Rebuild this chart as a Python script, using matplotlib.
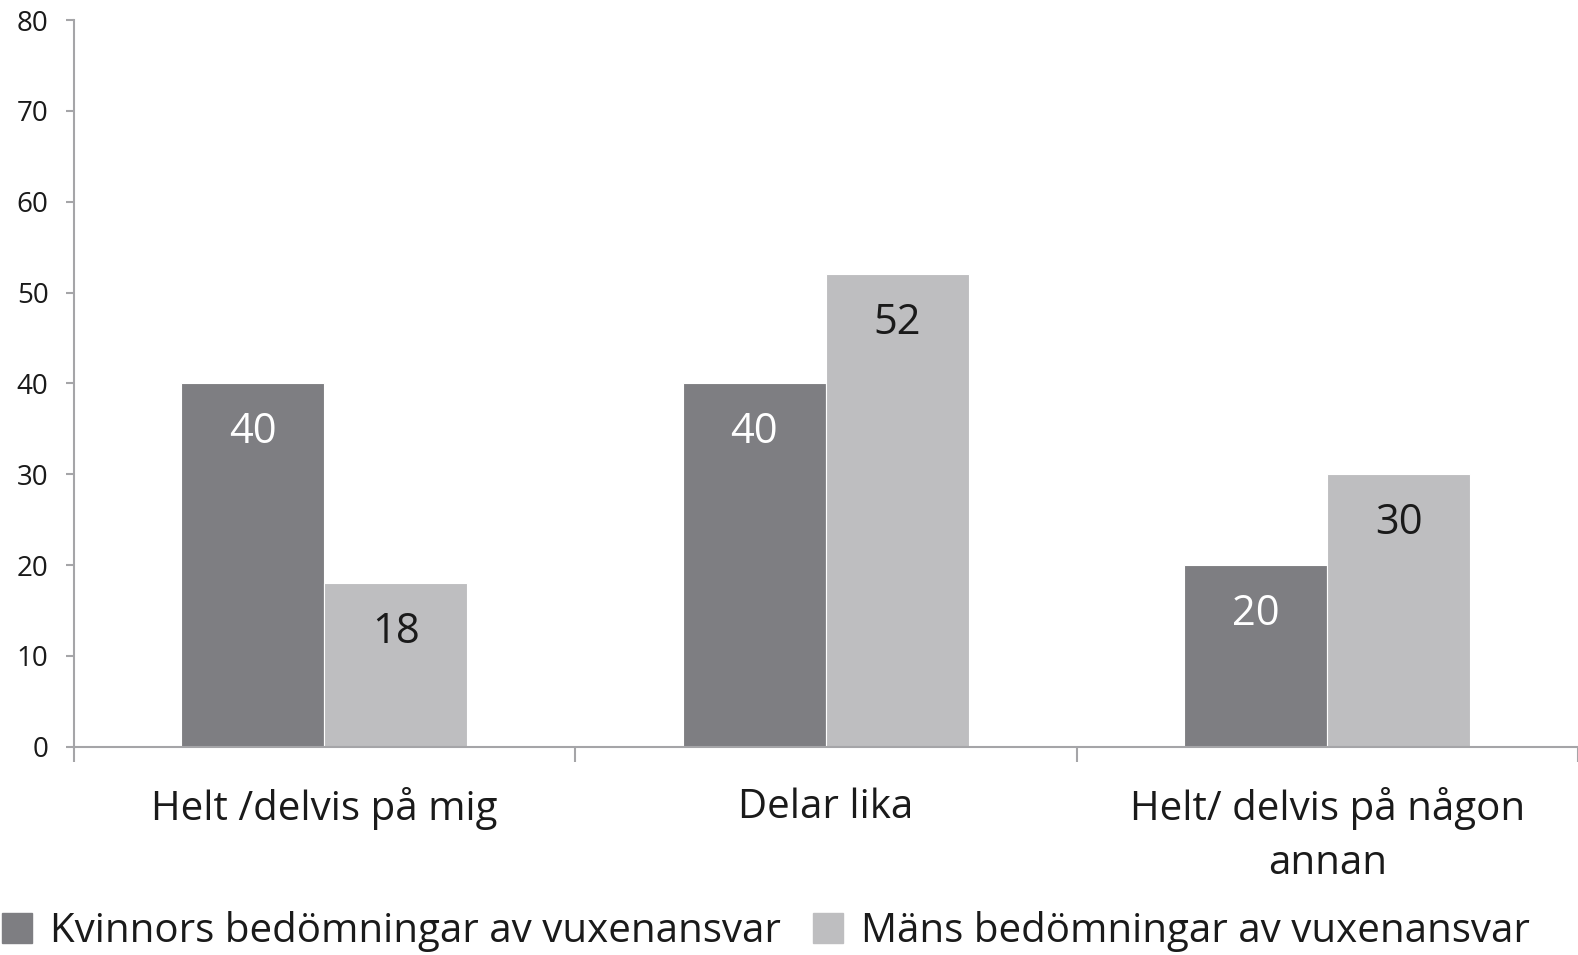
import numpy as np
import matplotlib.pyplot as plt
from matplotlib.patches import Patch

categories = ['Helt /delvis på mig', 'Delar lika', 'Helt/ delvis på någon\nannan']
kvinnor = [40, 40, 20]
man = [18, 52, 30]
series_names = ['Kvinnors bedömningar av vuxenansvar', 'Mäns bedömningar av vuxenansvar']

dark = '#7e7e82'
light = '#bebec0'
axis_col = '#a5a5a8'

plt.rcParams['font.family'] = ['Open Sans', 'DejaVu Sans']

fig = plt.figure(figsize=(15.78, 9.55), dpi=100)
ax = fig.add_axes([0.0466, 0.218, 0.9534, 0.761])

x = np.arange(len(categories))
w = 0.285
b1 = ax.bar(x - w / 2, kvinnor, w, color=dark, edgecolor='white', linewidth=0.8)
b2 = ax.bar(x + w / 2, man, w, color=light, edgecolor='white', linewidth=0.8)

for rect, v in zip(b1, kvinnor):
    ax.annotate(str(v), (rect.get_x() + rect.get_width() / 2, v), xytext=(0, -35),
                textcoords='offset points', ha='center', va='center', fontsize=30, color='white')
for rect, v in zip(b2, man):
    ax.annotate(str(v), (rect.get_x() + rect.get_width() / 2, v), xytext=(0, -35),
                textcoords='offset points', ha='center', va='center', fontsize=30, color='#1a1a1a')

ax.set_xlim(-0.5, 2.5)
ax.set_ylim(0, 80)
ax.set_yticks(range(0, 81, 10))
ax.tick_params(axis='y', length=6, width=1.5, color=axis_col, labelsize=20, pad=12, labelcolor='#1a1a1a')

ax.set_xticks(x)
ax.set_xticklabels(categories, fontsize=29, color='#1a1a1a', linespacing=1.45)
ax.tick_params(axis='x', which='major', length=0, pad=29)
ax.set_xticks([-0.5, 0.5, 1.5, 2.5], minor=True)
ax.tick_params(axis='x', which='minor', length=11, width=1.5, color=axis_col)

for s in ['top', 'right']:
    ax.spines[s].set_visible(False)
for s in ['left', 'bottom']:
    ax.spines[s].set_color(axis_col)
    ax.spines[s].set_linewidth(1.5)

handles = [Patch(color=dark), Patch(color=light)]
fig.legend(handles, series_names, loc='lower left', bbox_to_anchor=(0.001, 0.003), ncol=2,
           frameon=False, fontsize=29, handlelength=0.75, handleheight=0.75,
           handletextpad=0.45, columnspacing=0.8, borderaxespad=0, borderpad=0,
           labelcolor='#1a1a1a')

fig.savefig('out.png', dpi=100)
